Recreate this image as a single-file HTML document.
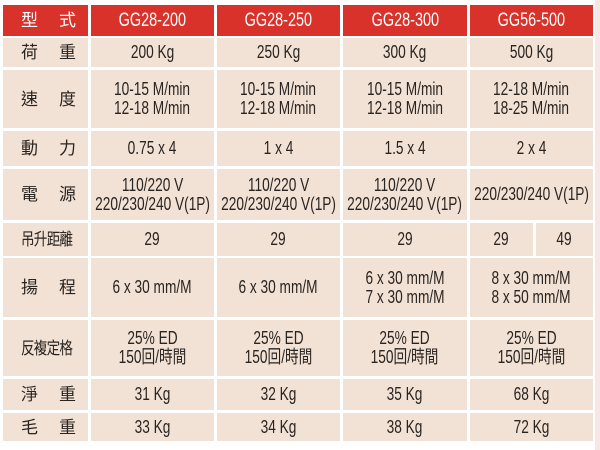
<!DOCTYPE html>
<html><head><meta charset="utf-8"><style>
body{margin:0;width:600px;height:450px;background:#fff;overflow:hidden;position:relative;font-family:"Liberation Sans","Noto Sans CJK TC",sans-serif;}
.c{position:absolute;background:#f2e2d6;display:flex;align-items:center;justify-content:center;text-align:center;color:#2a2420;font-size:18px;line-height:19px;}
.c span{display:inline-block;transform:scaleX(0.76);white-space:nowrap;}
.h{background:#d8322b;color:#fff;font-size:19px;}
.l{justify-content:flex-start;padding-left:18px;box-sizing:border-box;font-size:17px;}
.l span{transform:none;letter-spacing:2px;}
.l span.n{font-size:17px;letter-spacing:-1px;transform:scaleX(0.8);transform-origin:left center;}
</style></head><body>
<div style="position:absolute;left:595px;top:0;width:5px;height:450px;background:#f7e6e6"></div>
<div id="t"></div>
<script>
var rows=[[5,36],[38,67],[70,128],[131,166],[169,220],[223,256],[258,317],[320,376],[379,410],[413,441]];
var cols=[[3,88],[91,214],[217,340],[343,467],[470,593]];
var data=[
["型　式","GG28-200","GG28-250","GG28-300","GG56-500"],
["荷　重","200 Kg","250 Kg","300 Kg","500 Kg"],
["速　度","10-15 M/min<br>12-18 M/min","10-15 M/min<br>12-18 M/min","10-15 M/min<br>12-18 M/min","12-18 M/min<br>18-25 M/min"],
["動　力","0.75 x 4","1 x 4","1.5 x 4","2 x 4"],
["電　源","110/220 V<br>220/230/240 V(1P)","110/220 V<br>220/230/240 V(1P)","110/220 V<br>220/230/240 V(1P)","220/230/240 V(1P)"],
["<span class='n'>吊升距離</span>","29","29","29",null],
["揚　程","6 x 30 mm/M","6 x 30 mm/M","6 x 30 mm/M<br>7 x 30 mm/M","8 x 30 mm/M<br>8 x 50 mm/M"],
["<span class='n'>反複定格</span>","25% ED<br>150回/時間","25% ED<br>150回/時間","25% ED<br>150回/時間","25% ED<br>150回/時間"],
["淨　重","31 Kg","32 Kg","35 Kg","68 Kg"],
["毛　重","33 Kg","34 Kg","38 Kg","72 Kg"]];
var h="";
function cell(x1,x2,y1,y2,cls,txt){h+='<div class="c '+cls+'" style="left:'+x1+'px;top:'+y1+'px;width:'+(x2-x1)+'px;height:'+(y2-y1)+'px"><span>'+txt+'</span></div>';}
for(var r=0;r<rows.length;r++){for(var c=0;c<5;c++){var cls=r==0?"h":"";if(c==0)cls+=" l";
var t=data[r][c];
if(t===null){cell(470,533,rows[r][0],rows[r][1],"","29");cell(536,593,rows[r][0],rows[r][1],"","49");continue;}
cell(cols[c][0],cols[c][1],rows[r][0],rows[r][1],cls,t);}}
document.getElementById("t").innerHTML=h;
</script>
</body></html>
